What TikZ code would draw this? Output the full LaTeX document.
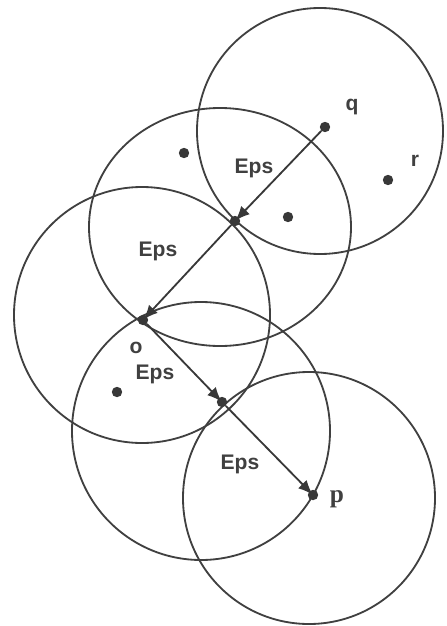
\documentclass[tikz,border=0pt]{standalone}
\usepackage{fontspec}
\setmainfont{Liberation Sans}
\newfontfamily\serifp{Liberation Serif}
\usetikzlibrary{arrows.meta}

\tikzset{
  ring/.style={draw=black!75, line width=1.3pt},
  dot/.style={circle, fill=black!78, inner sep=0pt, minimum size=2.6mm},
  link/.style={-{Latex[length=3.6mm, width=3mm]}, draw=black!78, line width=1.3pt, shorten >=-1.2mm},
  lbl/.style={font=\bfseries\fontsize{15}{15}\selectfont, text=black!75, inner sep=0pt},
}

\begin{document}
\begin{tikzpicture}[x=0.025cm, y=-0.025cm]
  \useasboundingbox (0,0) rectangle (447,626);

  % Eps neighbourhoods
  \draw[ring] (320,131) circle (123);
  \draw[ring] (220,227) ellipse (131 and 119);
  \draw[ring] (142,315) circle (128);
  \draw[ring] (201,431) circle (129);
  \draw[ring] (309,498) circle (126);

  % core and other points
  \node[dot] (q) at (325,127) {};
  \node[dot] (r) at (388,180) {};
  \node[dot] (n1) at (184,153) {};
  \node[dot] (n2) at (288,217) {};
  \node[dot] (a) at (235,221) {};
  \node[dot] (o) at (143,320) {};
  \node[dot] (n3) at (117,392) {};
  \node[dot] (b) at (222,402) {};
  \node[dot] (p) at (313,495) {};

  % point labels
  \node[lbl] (ql) at (352,107) {q};
  \node[lbl] (rl) at (415,161) {r};
  \node[lbl] (ol) at (136,348) {o};
  \node[lbl, font=\serifp\bfseries\fontsize{18}{18}\selectfont] (pl) at (337,499) {p};

  % density-reachability chain
  \draw[link] (q) -- (a);
  \draw[link] (a) -- (o);
  \draw[link] (o) -- (b);
  \draw[link] (b) -- (p);

  % Eps labels
  \node[lbl] (e1) at (254,168) {Eps};
  \node[lbl] (e2) at (158,251) {Eps};
  \node[lbl] (e3) at (155,374) {Eps};
  \node[lbl] (e4) at (240,464) {Eps};
\end{tikzpicture}
\end{document}
